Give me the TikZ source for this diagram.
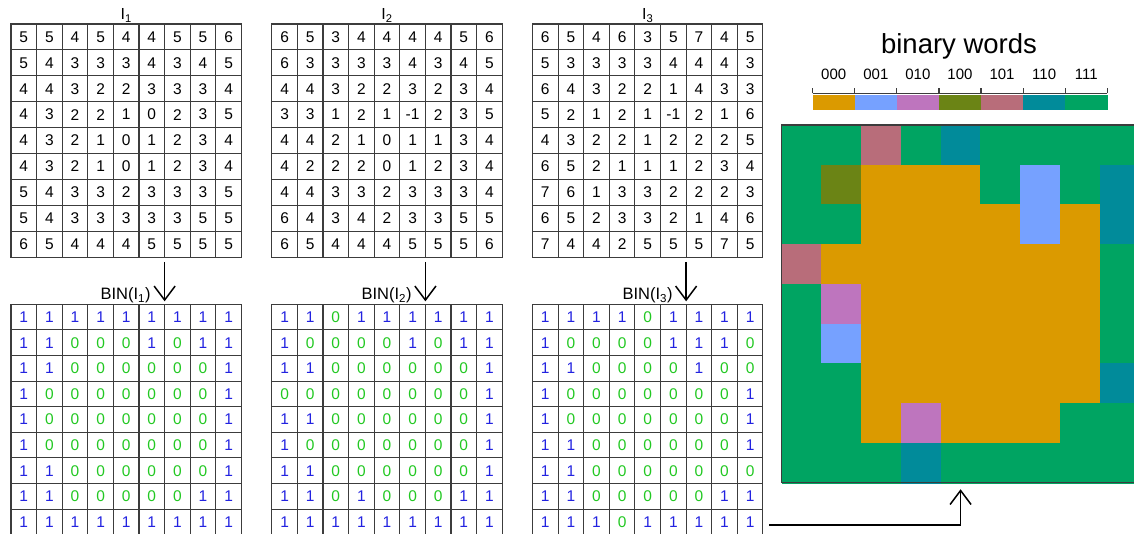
\documentclass[tikz,border=0pt]{standalone}
\usepackage{fontspec}
\setmainfont{Liberation Sans}
\usetikzlibrary{arrows.meta}
\definecolor{w000}{HTML}{DB9A00}
\definecolor{w001}{HTML}{76A1FF}
\definecolor{w010}{HTML}{BE75BE}
\definecolor{w100}{HTML}{6B8415}
\definecolor{w101}{HTML}{B86D7A}
\definecolor{w110}{HTML}{018B9A}
\definecolor{w111}{HTML}{00A462}
\definecolor{gridc}{HTML}{3C3C3C}
\definecolor{bitone}{HTML}{2222E0}
\definecolor{bitzero}{HTML}{22C822}
\def\DatIa{{5,5,4,5,4,4,5,5,6},{5,4,3,3,3,4,3,4,5},{4,4,3,2,2,3,3,3,4},{4,3,2,2,1,0,2,3,5},{4,3,2,1,0,1,2,3,4},{4,3,2,1,0,1,2,3,4},{5,4,3,3,2,3,3,3,5},{5,4,3,3,3,3,3,5,5},{6,5,4,4,4,5,5,5,5}}
\def\DatIb{{6,5,3,4,4,4,4,5,6},{6,3,3,3,3,4,3,4,5},{4,4,3,2,2,3,2,3,4},{3,3,1,2,1,-1,2,3,5},{4,4,2,1,0,1,1,3,4},{4,2,2,2,0,1,2,3,4},{4,4,3,3,2,3,3,3,4},{6,4,3,4,2,3,3,5,5},{6,5,4,4,4,5,5,5,6}}
\def\DatIc{{6,5,4,6,3,5,7,4,5},{5,3,3,3,3,4,4,4,3},{6,4,3,2,2,1,4,3,3},{5,2,1,2,1,-1,2,1,6},{4,3,2,2,1,2,2,2,5},{6,5,2,1,1,1,2,3,4},{7,6,1,3,3,2,2,2,3},{6,5,2,3,3,2,1,4,6},{7,4,4,2,5,5,5,7,5}}
\def\DatBa{{1,1,1,1,1,1,1,1,1},{1,1,0,0,0,1,0,1,1},{1,1,0,0,0,0,0,0,1},{1,0,0,0,0,0,0,0,1},{1,0,0,0,0,0,0,0,1},{1,0,0,0,0,0,0,0,1},{1,1,0,0,0,0,0,0,1},{1,1,0,0,0,0,0,1,1},{1,1,1,1,1,1,1,1,1}}
\def\DatBb{{1,1,0,1,1,1,1,1,1},{1,0,0,0,0,1,0,1,1},{1,1,0,0,0,0,0,0,1},{0,0,0,0,0,0,0,0,1},{1,1,0,0,0,0,0,0,1},{1,0,0,0,0,0,0,0,1},{1,1,0,0,0,0,0,0,1},{1,1,0,1,0,0,0,1,1},{1,1,1,1,1,1,1,1,1}}
\def\DatBc{{1,1,1,1,0,1,1,1,1},{1,0,0,0,0,1,1,1,0},{1,1,0,0,0,0,1,0,0},{1,0,0,0,0,0,0,0,1},{1,0,0,0,0,0,0,0,1},{1,1,0,0,0,0,0,0,1},{1,1,0,0,0,0,0,0,0},{1,1,0,0,0,0,0,1,1},{1,1,1,0,1,1,1,1,1}}
\def\DatW{{111,111,101,111,110,111,111,111,111},{111,100,000,000,000,111,001,111,110},{111,111,000,000,000,000,001,000,110},{101,000,000,000,000,000,000,000,111},{111,010,000,000,000,000,000,000,111},{111,001,000,000,000,000,000,000,111},{111,111,000,000,000,000,000,000,110},{111,111,000,010,000,000,000,111,111},{111,111,111,110,111,111,111,111,111}}
\newcommand\valgrid[4]{%
  \foreach \rw [count=\ri from 0] in #4 {
    \foreach \v [count=\ci from 0] in \rw {
      \node[vcell] (#1-\ri-\ci) at ({#2+25.6*\ci},{#3+25.9*\ri}) {\v};
    }
  }%
}
\newcommand\bingrid[4]{%
  \foreach \rw [count=\ri from 0] in #4 {
    \foreach \v [count=\ci from 0] in \rw {
      \ifnum\v=1 \def\bc{bitone}\else\def\bc{bitzero}\fi
      \node[bcell,text=\bc] (#1-\ri-\ci) at ({#2+25.6*\ci},{#3+25.6*\ri}) {\v};
    }
  }%
}
\begin{document}
\begin{tikzpicture}[x=1pt,y=-1pt,
  vcell/.style={draw=gridc, line width=1.1pt, minimum width=25.6pt, minimum height=25.9pt,
    inner sep=0pt, outer sep=0pt, anchor=north west, font=\fontsize{15.5}{17}\selectfont, text=black},
  bcell/.style={vcell, minimum height=25.6pt},
  pix/.style={minimum width=39.75pt, minimum height=39.75pt, inner sep=0pt, outer sep=0pt,
    anchor=north west, line width=0.3pt},
  lseg/.style={minimum width=42.08pt, minimum height=14.3pt, inner sep=0pt, outer sep=0pt,
    anchor=north west, line width=0.3pt},
  lbl/.style={anchor=base, inner sep=0pt, font=\fontsize{15}{17}\selectfont},
  toplbl/.style={anchor=base, inner sep=0pt, font=\fontsize{16}{18}\selectfont},
  binlbl/.style={anchor=base, inner sep=0pt, font=\fontsize{16.5}{18}\selectfont},
  arr/.style={line width=1.5pt, -{Straight Barb[length=14pt,width=21pt]}}]
\useasboundingbox (0,0) rectangle (1134,534);

% value grids
\valgrid{a1}{11}{24}{\DatIa}
\valgrid{a2}{271.8}{24}{\DatIb}
\valgrid{a3}{532.5}{24}{\DatIc}
\node[toplbl] (n1) at (126.2,19.8) {I\textsubscript{1}};
\node[toplbl] (n2) at (387,19.8) {I\textsubscript{2}};
\node[toplbl] (n3) at (647.7,19.8) {I\textsubscript{3}};

% binary grids
\bingrid{b1}{11}{304.3}{\DatBa}
\bingrid{b2}{271.8}{304.3}{\DatBb}
\bingrid{b3}{532.5}{304.3}{\DatBc}
\node[binlbl] (m1) at (125.5,299.5) {BIN(I\textsubscript{1})};
\node[binlbl] (m2) at (386.5,299.5) {BIN(I\textsubscript{2})};
\node[binlbl] (m3) at (647.5,299.5) {BIN(I\textsubscript{3})};

\draw[arr] ([yshift=-4.7pt]a1-8-6.south west) -- ([yshift=3pt]b1-0-6.north west);
\draw[arr] ([yshift=-4.7pt]a2-8-6.south west) -- ([yshift=3pt]b2-0-6.north west);
\draw[arr] ([yshift=-4.7pt]a3-8-6.south west) -- ([yshift=3pt]b3-0-6.north west);

% binary words image
\foreach \rw [count=\ri from 0] in \DatW {
  \foreach \w [count=\ci from 0] in \rw {
    \node[pix, fill=w\w, draw=w\w] (p-\ri-\ci) at ({781.7+39.75*\ci},{125+39.75*\ri}) {};
  }
}
\node[draw=gridc, line width=1.2pt, minimum width=357.75pt, minimum height=357.75pt,
  inner sep=0pt, outer sep=0pt, anchor=north west] (img) at (781.7,125) {};

% legend
\node[anchor=base, inner sep=0pt, font=\fontsize{27.5}{30}\selectfont] (title) at (959,53.3) {binary words};
\foreach \w [count=\i from 0] in {000,001,010,100,101,110,111} {
  \node[lseg, fill=w\w, draw=w\w] (l\w) at ({812.7+42.08*\i},95) {};
  \node[lbl] (t\w) at ({833.74+42.08*\i},79.5) {\w};
}
\draw[gridc, line width=1.1pt] (812.7,93.3) -- (1107.3,93.3);
\foreach \i in {0,...,7} {
  \draw[gridc, line width=1.1pt] ({812.7+42.08*\i},93.3) -- ++(0,-5);
}

% connector
\coordinate (c3) at (769,525);
\draw[arr] (c3) -| ([yshift=-6.5pt]img.south);
\end{tikzpicture}
\end{document}
